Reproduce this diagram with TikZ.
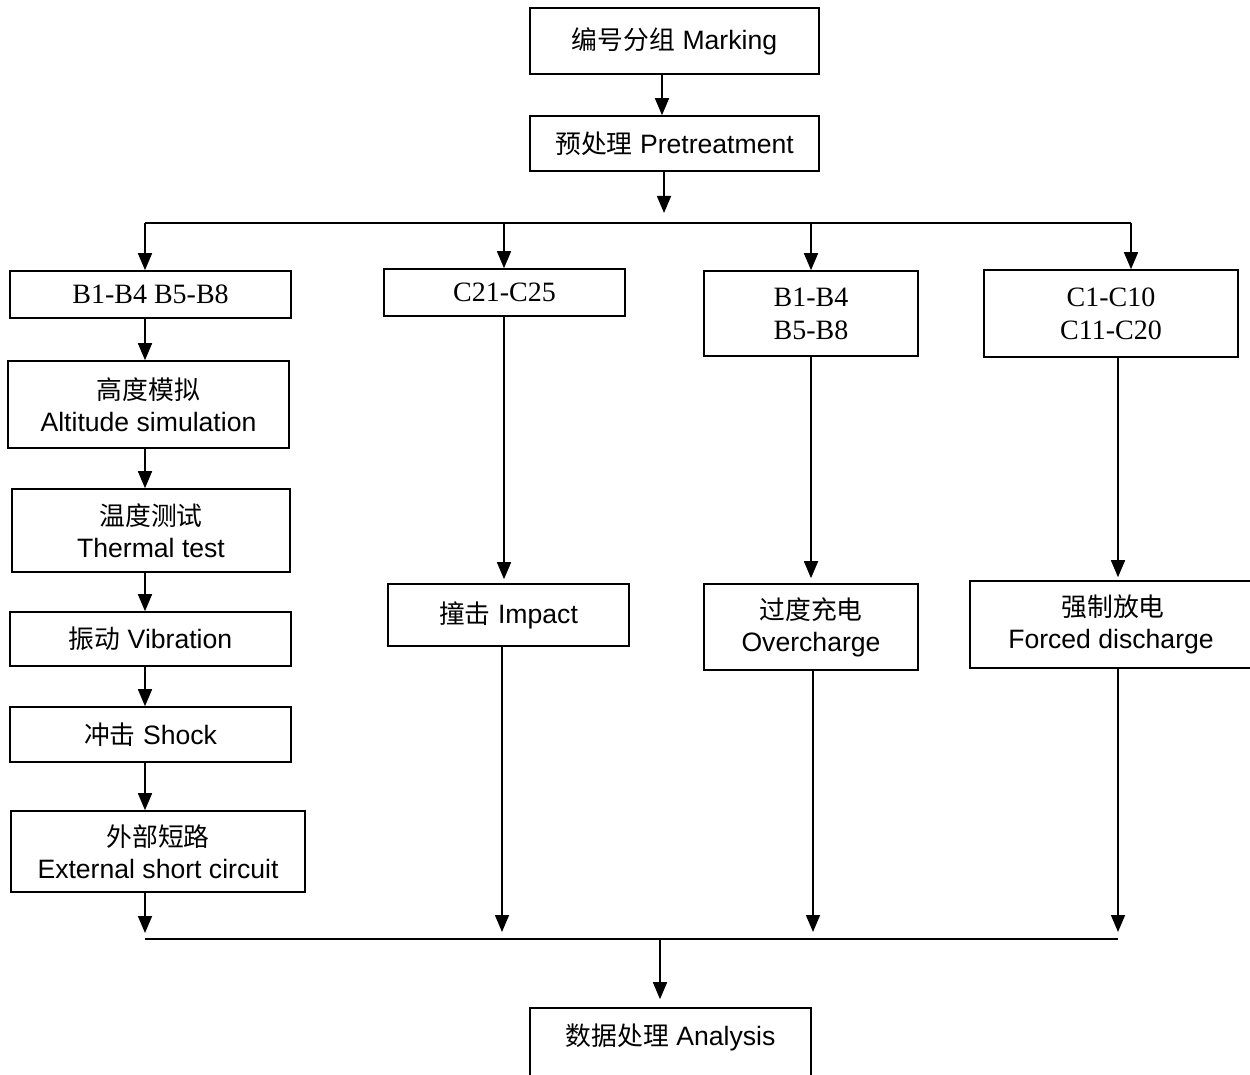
\documentclass[tikz,border=0pt]{standalone}
\usepackage{fontspec}
\setmainfont{Liberation Sans}
\newfontfamily\cjk[Scale=0.97]{Noto Sans CJK SC}
\newfontfamily\tms{Liberation Serif}
\usetikzlibrary{arrows.meta}
\begin{document}
\begin{tikzpicture}[x=1pt,y=-1pt,
  box/.style={draw, line width=1.6pt, inner sep=0pt, align=center,
    font=\fontsize{26.6}{32}\selectfont},
  tbox/.style={box, font=\tms\fontsize{28}{33}\selectfont},
  arr/.style={line width=1.6pt, -{Triangle[length=17pt,width=14pt]}},
  bus/.style={line width=2.8pt}]
\useasboundingbox (0,0) rectangle (1250,1075);
\clip (0,0) rectangle (1250,1075);
\fill[white] (0,0) rectangle (1250,1075);
% top
\node[box, minimum width=289pt, minimum height=66pt] (mark) at (674.5,41) {{\cjk 编号分组} Marking};
\node[box, minimum width=289pt, minimum height=55pt] (pre) at (674.5,143.5) {{\cjk 预处理} Pretreatment};
% second row
\node[tbox, minimum width=281pt, minimum height=47pt] (b1) at (150.5,294.5) {B1-B4 B5-B8};
\node[tbox, minimum width=241pt, minimum height=47pt] (c21) at (504.5,292.5) {C21-C25};
\node[tbox, minimum width=214pt, minimum height=85pt] (b2) at (811,313.5) {B1-B4\\B5-B8};
\node[tbox, minimum width=254pt, minimum height=87pt] (c1) at (1111,313.5) {C1-C10\\C11-C20};
% left column
\node[box, minimum width=281pt, minimum height=87pt] (alt) at (148.5,404.5) {{\cjk 高度模拟}\\Altitude simulation};
\node[box, minimum width=278pt, minimum height=83pt] (therm) at (151,530.5) {{\cjk 温度测试}\\Thermal test};
\node[box, minimum width=281pt, minimum height=54pt] (vib) at (150.5,639) {{\cjk 振动} Vibration};
\node[box, minimum width=281pt, minimum height=55pt] (shock) at (150.5,734.5) {{\cjk 冲击} Shock};
\node[box, minimum width=294pt, minimum height=81pt] (ext) at (158,851.5) {{\cjk 外部短路}\\External short circuit};
% other columns
\node[box, minimum width=241pt, minimum height=62pt] (imp) at (508.5,615) {{\cjk 撞击} Impact};
\node[box, minimum width=214pt, minimum height=86pt] (over) at (811,627) {{\cjk 过度充电}\\Overcharge};
\node[box, minimum width=286pt, minimum height=87pt] (forced) at (1113,624.5) {{\cjk 强制放电}\\Forced discharge\hspace*{4pt}};
% bottom
\node[box, minimum width=281pt, minimum height=74pt, text depth=20pt] (an) at (670.5,1045) {{\cjk 数据处理} Analysis};
% coordinates
\coordinate (s0) at (664,213);
\coordinate (t1) at (145,223);
\coordinate (t2) at (504,223);
\coordinate (t3) at (811,223);
\coordinate (t4) at (1131,223);
\coordinate (d1) at (145,933);
\coordinate (d2) at (502,932);
\coordinate (d3) at (813,932);
\coordinate (d4) at (1118,932);
\coordinate (u1) at (145,939);
\coordinate (u4) at (1118,939);
\coordinate (m) at (660,939);
\coordinate (mk) at (662,0);
% connectors
\draw[arr] (mark.south -| mk) -- (pre.north -| mk);
\draw[arr] (pre.south -| s0) -- (s0);
\draw[bus] (t1) -- (t4);
\draw[arr] (t1) -- (b1.north -| t1);
\draw[arr] (t2) -- (c21.north -| t2);
\draw[arr] (t3) -- (b2.north -| t3);
\draw[arr] (t4) -- (c1.north -| t4);
\draw[arr] (b1.south -| t1) -- (alt.north -| t1);
\draw[arr] (alt.south -| t1) -- (therm.north -| t1);
\draw[arr] (therm.south -| t1) -- (vib.north -| t1);
\draw[arr] (vib.south -| t1) -- (shock.north -| t1);
\draw[arr] (shock.south -| t1) -- (ext.north -| t1);
\draw[arr] (ext.south -| t1) -- (d1);
\draw[arr] (c21.south -| t2) -- ([yshift=4pt]imp.north -| t2);
\draw[arr] (imp.south -| d2) -- (d2);
\draw[arr] (b2.south -| t3) -- ([yshift=5pt]over.north -| t3);
\draw[arr] (over.south -| d3) -- (d3);
\draw[arr] (c1.south -| d4) -- ([yshift=3pt]forced.north -| d4);
\draw[arr] (forced.south -| d4) -- (d4);
\draw[bus] (u1) -- (u4);
\draw[arr] (m) -- ([yshift=8pt]an.north -| m);
\end{tikzpicture}
\end{document}
